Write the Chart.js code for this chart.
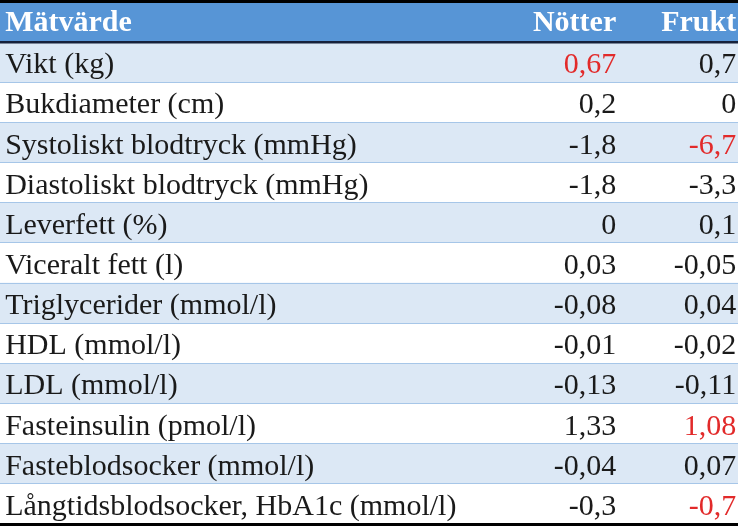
<!DOCTYPE html>
<html>
<head>
<meta charset="utf-8">
<script src="https://cdn.jsdelivr.net/npm/chart.js@4.4.1/dist/chart.umd.min.js"></script>
<style>
  html, body { margin: 0; padding: 0; background: #ffffff; }
  #wrap { width: 738px; height: 528px; }
</style>
</head>
<body>
<div id="wrap"><canvas id="tableChart"></canvas></div>
<script>
// table contents
const headers = ['Mätvärde', 'Nötter', 'Frukt'];
const measures = [
    'Vikt (kg)',
    'Bukdiameter (cm)',
    'Systoliskt blodtryck (mmHg)',
    'Diastoliskt blodtryck (mmHg)',
    'Leverfett (%)',
    'Viceralt fett (l)',
    'Triglycerider (mmol/l)',
    'HDL (mmol/l)',
    'LDL (mmol/l)',
    'Fasteinsulin (pmol/l)',
    'Fasteblodsocker (mmol/l)',
    'Långtidsblodsocker, HbA1c (mmol/l)'
];
const notter = ['0,67', '0,2', '-1,8', '-1,8', '0', '0,03', '-0,08', '-0,01', '-0,13', '1,33', '-0,04', '-0,3'];
const frukt = ['0,7', '0', '-6,7', '-3,3', '0,1', '-0,05', '0,04', '-0,02', '-0,11', '1,08', '0,07', '-0,7'];
// cells shown in red
const notterRed = [true, false, false, false, false, false, false, false, false, false, false, false];
const fruktRed = [false, false, true, false, false, false, false, false, false, true, false, true];

document.addEventListener('DOMContentLoaded', function() {

    const rows = [headers[0]].concat(measures);

    // column anchors on the x scale (0..100)
    const colLabelLeft = 0.7;
    const colNotterRight = 83.5;
    const colFruktRight = 99.75;

    const headerBlue = '#5795d6';
    const stripe = '#dce8f5';
    const textColor = '#1a1a1a';
    const red = '#e22a2a';
    const bodyFont = '30px "Liberation Serif", serif';
    const headFont = 'bold 30px "Liberation Serif", serif';

    const rowColors = rows.map((r, i) => i === 0 ? headerBlue : (i % 2 === 1 ? stripe : '#ffffff'));

    const cellText = {
        id: 'cellText',
        afterDraw(chart) {
            const ctx = chart.ctx;
            const x = chart.scales.x;
            const y = chart.scales.y;
            ctx.save();
            ctx.textBaseline = 'alphabetic';
            rows.forEach((row, i) => {
                const isHead = i === 0;
                const py = y.getPixelForValue(i) + (isHead ? 9 : 11);
                ctx.font = isHead ? headFont : bodyFont;

                ctx.textAlign = 'left';
                ctx.fillStyle = isHead ? '#ffffff' : textColor;
                ctx.fillText(row, x.getPixelForValue(colLabelLeft), py);

                ctx.textAlign = 'right';
                const n = isHead ? headers[1] : notter[i - 1];
                ctx.fillStyle = isHead ? '#ffffff' : (notterRed[i - 1] ? red : textColor);
                ctx.fillText(n, x.getPixelForValue(colNotterRight), py);

                const f = isHead ? headers[2] : frukt[i - 1];
                ctx.fillStyle = isHead ? '#ffffff' : (fruktRed[i - 1] ? red : textColor);
                ctx.fillText(f, x.getPixelForValue(colFruktRight), py);
            });
            ctx.restore();
        }
    };

    // outer lines: first and last grid line (the last one gets the scale context, no index)
    const isOuter = c => c.index === 0 || c.index === undefined || c.index === rows.length;

    new Chart(document.getElementById('tableChart'), {
        type: 'bar',
        data: {
            labels: rows,
            datasets: [{
                data: rows.map(() => [0, 100]),
                backgroundColor: rowColors,
                borderWidth: 0,
                barPercentage: 1,
                categoryPercentage: 1
            }]
        },
        options: {
            indexAxis: 'y',
            responsive: true,
            maintainAspectRatio: false,
            animation: false,
            layout: { padding: { top: 2, bottom: 4, left: 0, right: 0 } },
            plugins: { legend: { display: false }, tooltip: { enabled: false } },
            scales: {
                x: {
                    display: false,
                    min: 0,
                    max: 100
                },
                y: {
                    offset: true,
                    ticks: { display: false },
                    border: { display: false },
                    grid: {
                        z: 1,
                        offset: true,
                        drawTicks: false,
                        color: c => isOuter(c) ? '#000000' : (c.index === 1 ? '#16213b' : '#a6c6e8'),
                        lineWidth: c => isOuter(c) ? 3 : (c.index === 1 ? 2.5 : 1)
                    }
                }
            }
        },
        plugins: [cellText]
    });
});
</script>
</body>
</html>
